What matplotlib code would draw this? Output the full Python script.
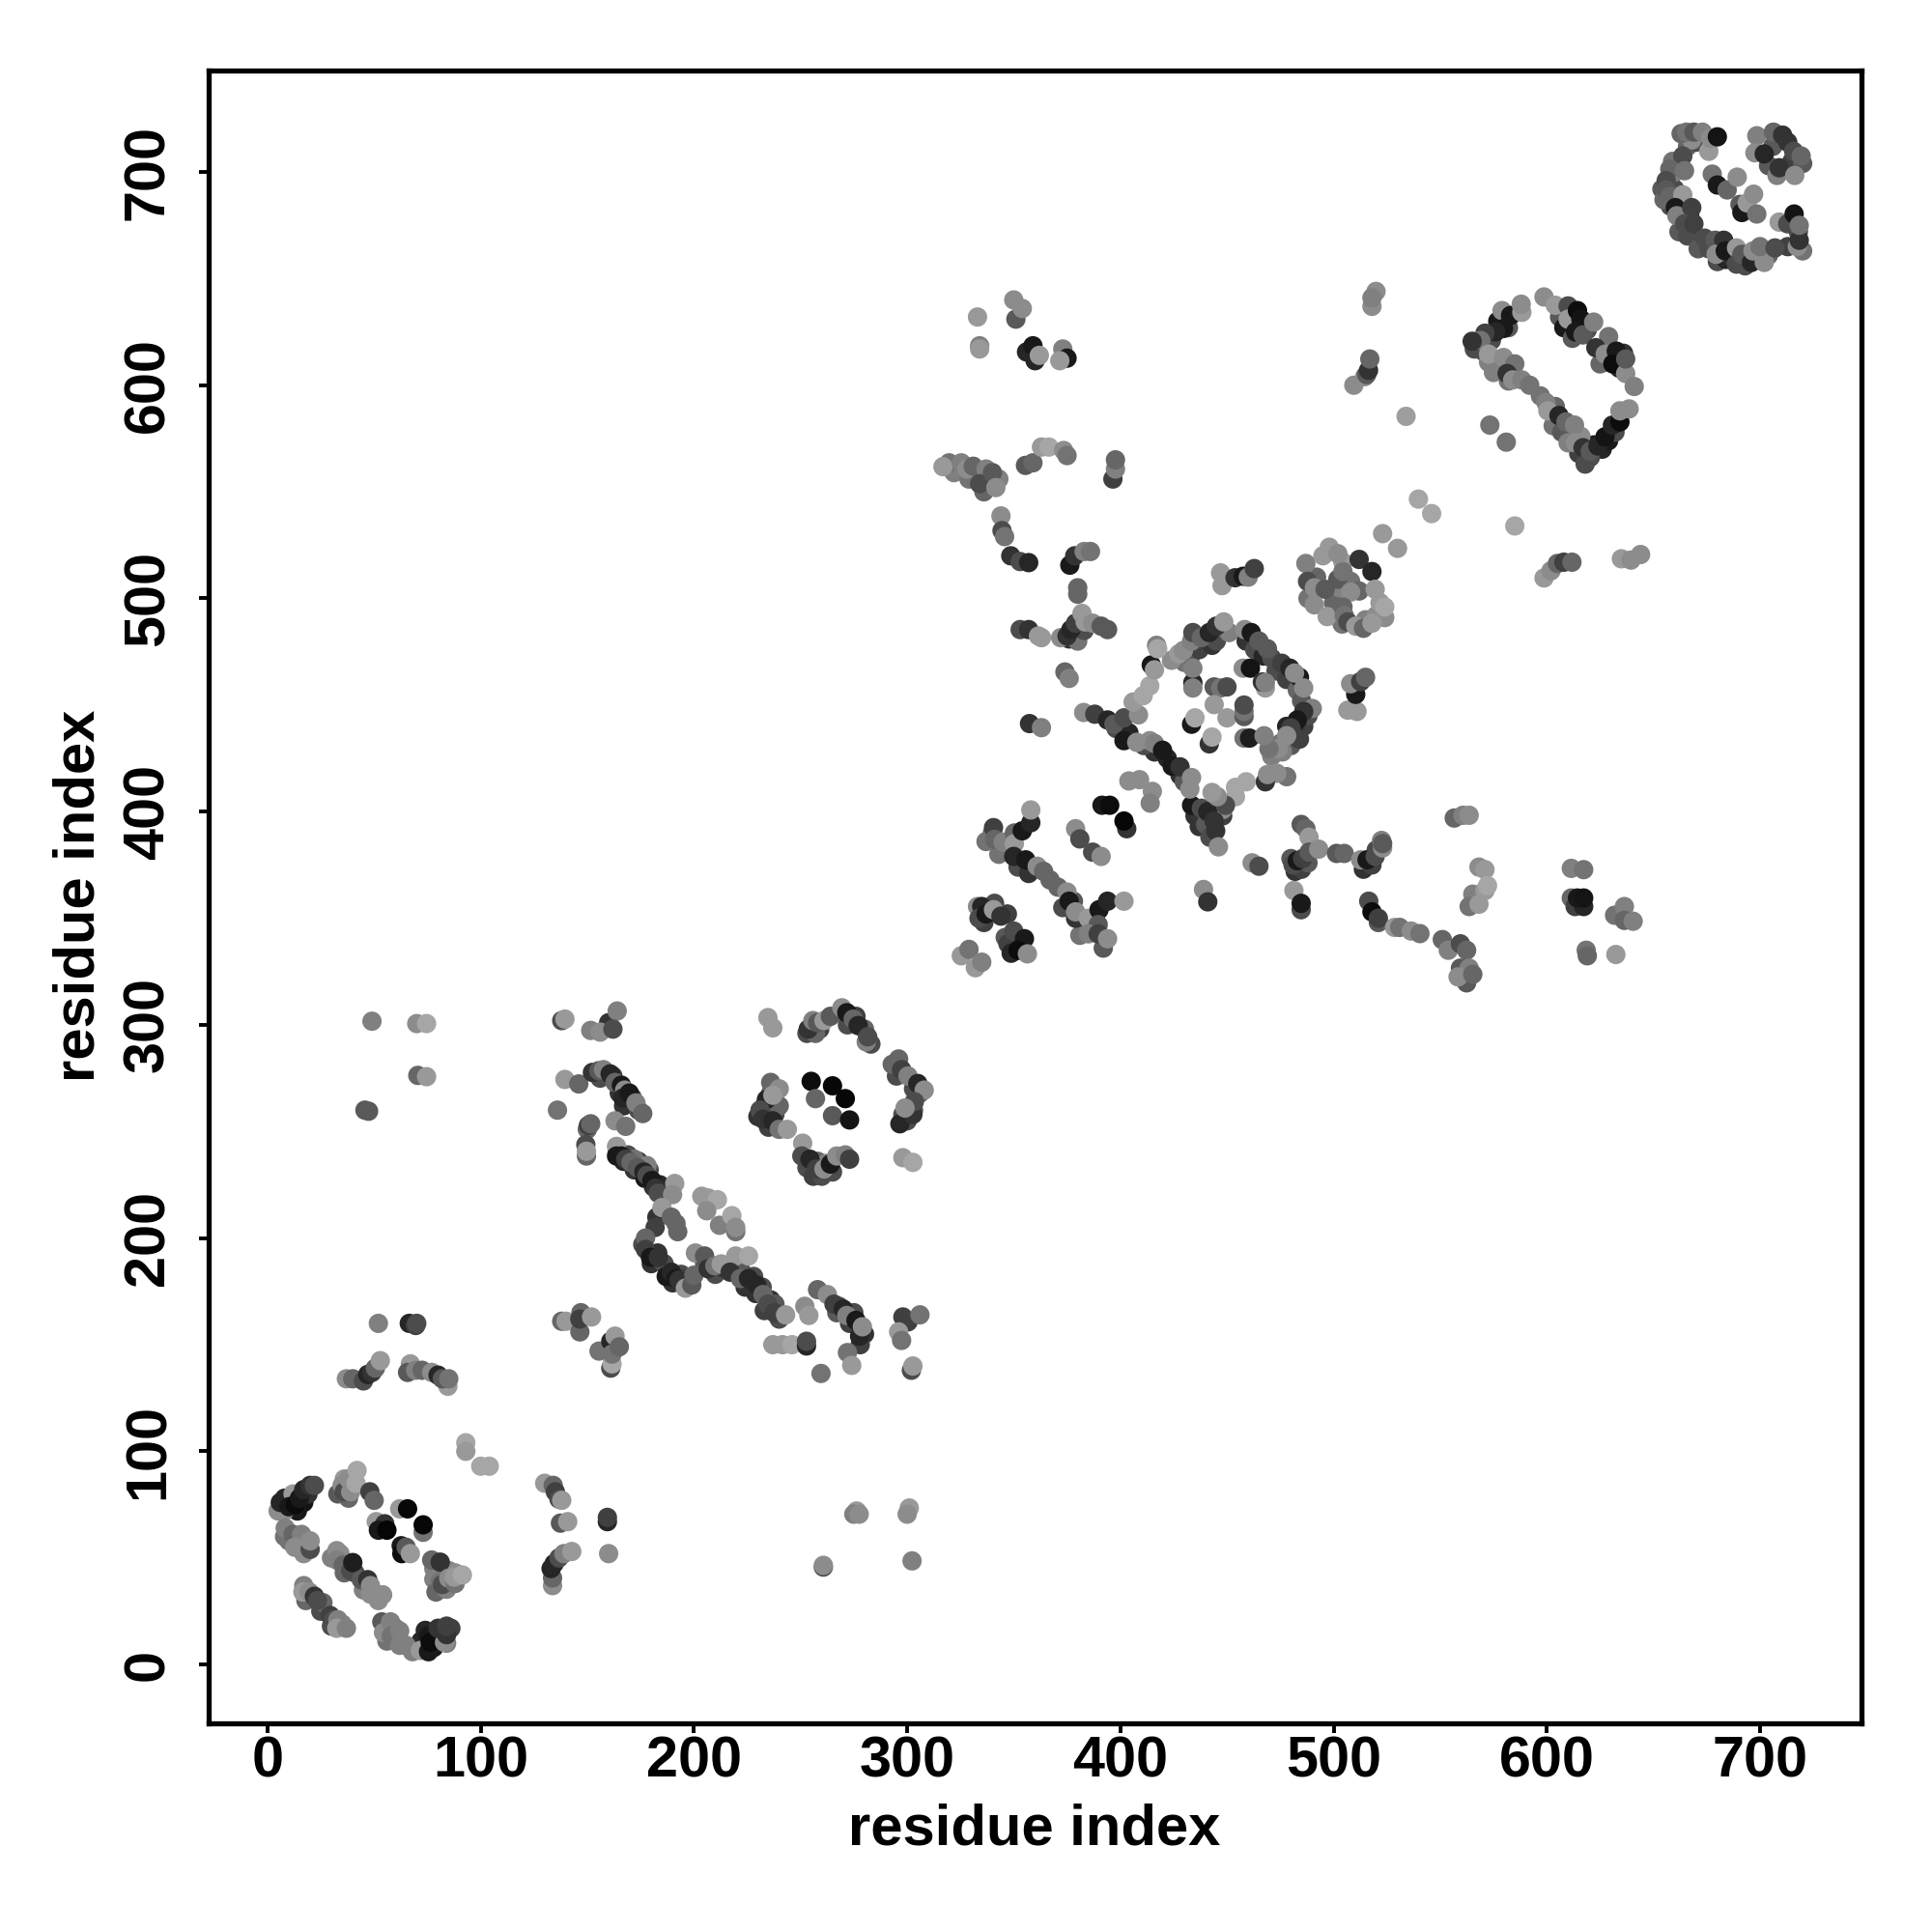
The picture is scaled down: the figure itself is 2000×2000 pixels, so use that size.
import matplotlib
matplotlib.use("Agg")
import matplotlib.pyplot as plt

# (residue x, residue y, grey level), cluster by cluster
under_a = [(5,72,.55),(8,78,.15),(17,76,.08),(14,72,.1),(19,80,.2),(10,58,.45),(15,57,.35),(17,52,.55),(8,60,.45),
    (36,87,.6),(33,80,.35),(38,78,.4),(30,50,.5),(34,52,.55),(36,43,.4),(41,43,.3),(45,35,.5),(52,30,.55),
    (18,30,.4),(25,25,.3),(26,29,.4),(30,18,.3),(35,19,.5),(56,11,.45),(60,17,.45),(68,6,.5),(72,11,.15),(78,8,.1),(74,16,.15),(80,13,.3),(86,17,.25),(84,10,.5),
    (78,45,.5),(78,40,.5),(85,44,.5),(79,34,.4),(88,43,.55)]

under_b = [(164,240,.2),(167,236,.15),(169,239,.3),(172,232,.2),(174,236,.25),(177,228,.1),(179,232,.3),(181,224,.2),(184,225,.15),(186,219,.35),(172,237,.45),(178,234,.5),
    (183,193,.2),(180,188,.2),(186,188,.3),(176,197,.3),(190,179,.2),(194,183,.3),(187,182,.1),(196,181,.25),
    (210,183,.3),(205,188,.35),(214,186,.2),(219,186,.25),(222,185,.35),(224,177,.2),(228,182,.3),(232,177,.3),(229,174,.2),(236,171,.2),(233,166,.25),(238,169,.35),(240,162,.3),
    (268,168,.3),(273,160,.25),(267,165,.35),(275,165,.3),(280,155,.2),(278,150,.25),
    (156,275,.3),(162,276,.25),(165,268,.2),(171,266,.3),(167,262,.2),(174,260,.3),
    (259,298,.25),(253,296,.3),(257,296,.4),(272,300,.3),(276,304,.25),(280,298,.4),(283,291,.3),(296,284,.4),(295,276,.3),(303,270,.3),(306,268,.3),(300,255,.3),(303,260,.35),(298,258,.3),
    (233,262,.3),(230,257,.2),(235,252,.25),(238,258,.3),(236,268,.4),(240,262,.4),
    (253,233,.3),(256,229,.25),(260,229,.3),(265,231,.3),(258,236,.4),(262,235,.5)]

under_c = [(347,352,.25),(336,348,.25),(341,357,.3),(351,339,.2),(346,341,.35),(340,390,.4),(337,386,.45),(343,380,.45),(352,374,.3),(357,371,.2),(367,368,.4),(373,355,.3),(378,358,.35),(385,346,.3),(392,336,.35),(381,342,.45),
    (376,481,.2),(378,484,.3),(380,480,.45),(383,485,.3),(322,559,.5),(329,556,.45),(336,550,.4),(338,555,.3),(343,556,.5),
    (416,428,.2),(422,425,.15),(428,417,.2),(430,414,.35),(398,439,.3),(404,437,.15),(411,431,.3),(437,393,.2),(435,398,.2),(440,394,.35),(448,398,.25),(442,388,.3),(448,401,.55),
    (430,470,.45),(424,471,.55),(433,473,.35),(437,476,.25),(443,478,.2),(445,480,.3),(451,484,.5),
    (459,480,.2),(463,476,.3),(467,473,.15),(471,472,.3),(473,466,.3),(478,462,.25),(483,457,.4),(486,440,.25),(478,440,.15),(482,437,.2),(485,452,.35),(475,432,.45),(480,431,.35),(476,428,.5),(471,426,.5),(488,445,.3),
    (482,372,.2),(485,373,.25),(488,376,.35),(480,378,.35),(514,373,.2),(518,375,.25),(520,382,.3)]

under_d = [(488,500,.45),(492,510,.4),(508,508,.45),(500,498,.4),(504,488,.45),(515,490,.5),(520,492,.55),(524,491,.55),(503,505,.5),
    (612,628,.2),(606,632,.35),(608,627,.1),(619,626,.3),(612,622,.35),(628,611,.1),(634,608,.15),(636,615,.2),(625,610,.4),
    (570,616,.35),(566,617,.3),(574,621,.3),(577,630,.1),(582,627,.35),(575,606,.5),(582,602,.45),(597,595,.45),(604,590,.4),(603,581,.45),(607,578,.35),(615,568,.25),(618,563,.3),(622,572,.1),(626,570,.15),(629,574,.1),(632,578,.3),(616,576,.55),
    (658,697,.4),(660,692,.3),(654,692,.35),(658,684,.3),(655,687,.4),(662,672,.35),(667,680,.15),(666,670,.3),(671,664,.35),(676,664,.3),(680,658,.3),(684,659,.15),(687,660,.2),(693,656,.3),(699,660,.2),(704,661,.4),(713,665,.25),(718,672,.3),(720,663,.45),(659,705,.45),(660,700,.5),(666,712,.4),(670,714,.3),(668,715,.55),(706,712,.35),(713,714,.2),(715,705,.25),(720,704,.35),(704,703,.35)]

ring_a = [(8,72,.55),(6,76,.15),(12,80,.6),(10,74,.1),(13,75,.05),(15,78,.1),(17,82,.15),(20,84,.2),(22,84,.3),
    (8.3,64,.5),(12,61,.4),(16,61,.5),(12.8,55,.55),(20,54,.3),(20,58,.55),
    (35,84,.55),(36,81,.3),(39,81,.55),(38,87,.55),(41.5,85,.65),(42,91,.65),(48,81,.25),(50,77,.4),
    (62,73,.6),(65.7,73,.03),(73,62,.45),(73,65.5,.03),(51,67,.6),(55,66,.2),(52,63,.1),(56,63,.02),
    (62.7,55.7,.1),(63,52,.05),(65,55,.35),(67,52,.6),
    (77,49,.4),(81,48,.2),(81,39,.45),(84,35.3,.5),(82,37.5,.3),(85,40.5,.55),(88,38,.45),(87.6,41,.6),(91.4,42,.65),
    (32.5,53.4,.55),(32.5,49,.5),(35.5,46.6,.4),(39,44,.3),(40,47.8,.12),(44,39.8,.35),(47,39.8,.2),(48.3,37,.55),(48.3,33,.55),(51.3,32.3,.55),(54,32.7,.55),
    (17,37,.5),(16.6,34,.6),(19.6,34,.55),(22,32,.2),(23.4,30,.3),(29.4,23,.25),(31,21,.3),(33,21,.5),(32.5,17,.6),(37,17,.5),
    (53.6,20,.35),(54.4,15,.55),(57.7,20,.5),(58,13.4,.45),(62,15.7,.5),(62,9,.5),(65,9,.5),(71.7,6.6,.6),(75.5,13.4,.1),(75.5,6,.1),(76.3,10.4,.05),
    (83,10.4,.55),(80,17,.2),(84,14,.2),(84,18,.25)]

arc_a = [(52,160,.5),(66.5,160,.15),(69.5,159,.25),(70,160,.3),
    (37,134,.55),(40,134,.4),(45,133,.3),(47,136,.15),(49,137,.2),(50.6,139,.4),(52.9,142.5,.6),
    (67,141,.6),(65.7,137,.35),(69.5,138,.5),(72.5,138,.4),(77,137,.55),(80,135.7,.15),(84.6,130.5,.6),(82,134,.35),(85,134,.45),
    (93,104,.65),(93,100,.6),(100,93,.65),(104,93,.65)]

side_a = [(130,85,.6),(134,84,.4),(135,81,.25),(136.7,77.6,.3),(138,77,.6),(137.4,66.3,.35),(140.8,67,.6),
    (133.7,37,.55),(133.7,40.6,.4),(133,45,.15),(134.4,47.3,.15),(136.7,50,.3),(139,52,.5),(142.7,53,.6),
    (159.4,67,.15),(159.4,69,.25),(160,52,.55),
    (138,161,.4),(140,161,.6),(146.5,156,.4),(147,165,.4),(146.5,162,.25),(152,163,.6),
    (155.5,147,.45),(161,139,.3),(161.6,141,.65),(161,151.6,.15),(161.6,145.6,.45),(163,154,.6),(165,149,.4)]

corner_a = [(49,301.7,.5),(45.7,260,.35),(47.4,259.5,.35),(70,300.6,.55),(74.6,300.6,.65),(70.5,276.3,.4),(74.6,275.7,.6),
    (260.7,45.7,.3),(260.7,46.5,.55),(276.3,72,.6),(275,70.5,.5),(277.5,70.5,.55),(301,73.4,.6),(300,70.5,.55),(302.3,48.6,.5)]

top_b = [(138,302,.3),(139.5,302.7,.6),(160,301,.2),(164,306.5,.5),(151.6,297.4,.5),(156,296.6,.55),(162,298,.3)]

diag_b = [(139.5,274.4,.6),(146,272.3,.4),(136,260,.45),(150,251,.4),(150.5,252.8,.25),(151.6,253.6,.4),(163,255,.55),(168,252.4,.45),
    (149.3,243.8,.3),(149.6,238.5,.4),(149.6,240.7,.6),
    (152.4,277.7,.2),(155.4,278.5,.35),(157.6,279,.5),(160.7,277,.15),(163,273,.4),(166,271.7,.1),(167.5,269.4,.55),(166.7,265.7,.15),(169.7,268,.1),(172.8,263.4,.5),(176,258.4,.4),
    (163.7,243,.6),(163.7,238.5,.1),(166,238.5,.1),(168,237,.25),(170.5,235.5,.4),(173.5,233,.35),(176.5,231,.15),(178,229.4,.3),(180.3,227,.1),(182,223.4,.2),(183.3,221,.3),
    (191,225.6,.6),(190,220.4,.55),(182.6,209.8,.2),(181.8,205,.25),(185,214.3,.6),(189.4,209.8,.4),(191.6,206.8,.4),(192.4,203,.4),
    (177.3,200,.4),(177.3,194.7,.25),(179.6,191,.1),(183.3,191,.2),(189.4,184,.15),(191.6,181,.1),(193,180.3,.2),(196,176.5,.6),(199,178,.35),(200,182.6,.4),
    (200.7,193,.55),(205,191.6,.35),(206.7,185.6,.2),(209.8,187,.45),(212.8,187.9,.6),(219.6,191.6,.6),(225.6,191.6,.65),
    (217,184,.2),(221.8,181,.4),(225.6,181,.15),(229.4,178,.15),(232.4,173.5,.4),(234.7,169,.3),(237.7,165,.25),(243,164,.6),
    (203.7,219.6,.6),(206.7,218.8,.6),(211,218,.65),(206,212.8,.55),(212,206,.5),(217.8,210.5,.65),(219.6,203,.45),(219.6,205,.55),
    (252,168,.55),(253.9,163.7,.6),(258,175.8,.4),(262.6,173.5,.55),(265.7,169,.25),(270,166.7,.15),(271.7,163.7,.5),(277.7,154,.15),(276,161.4,.1),(279,158.4,.55),
    (237,150,.6),(241.5,150,.6),(246,150,.65),(252.8,149.4,.15),(252.8,151.6,.3),(259.6,136.5,.45),(272,146.3,.45),(274,140.3,.6),
    (298,163,.25),(300.4,160.7,.25),(306,164,.45),(296,156,.6),(297.4,152,.45),(302,138,.3),(302.7,140,.6)]

ring_b = [(234.7,303.4,.6),(237,298.6,.6),(253.6,298,.2),(255.8,302,.5),(258,301,.35),(261,302,.6),(264,304,.35),(269.4,308,.55),(271.7,305.7,.1),(274.7,302.7,.4),(277,299.7,.15),(280.8,292,.5),(281.5,294.4,.3),
    (293,281.5,.4),(297.4,279,.25),(300.4,276,.5),(305,272.5,.15),(308,269.4,.55),(296.6,253.6,.15),(302.7,258,.2),(303.4,264,.3),(299,261,.55),(298,237.7,.6),(302.7,235.5,.65),
    (236,273,.4),(240,270,.55),(234,265,.15),(237,267,.6),(231,260,.3),(232.4,255.8,.2),(237,255,.15),(240,251,.45),(243.8,251,.6),
    (255,273.5,.05),(265,271.4,.03),(271,265.4,.03),(257,265.4,.4),(265,257.4,.35),(273,255.4,.08),
    (251,244.5,.6),(250.6,238.5,.3),(254.4,237,.15),(257.4,232.4,.25),(261,232.4,.55),(264,234.7,.1),(267,238.5,.55),(271,239,.5),(273,237,.25)]

low_c = [(325.4,332.4,.6),(329,335.4,.45),(332,326.8,.6),(335,329.4,.5),
    (333,355.5,.55),(335,355.5,.15),(333.7,350,.3),(337,352,.1),(340.5,354,.6),(344,351,.2),
    (347.3,338,.25),(350,344,.3),(355,340.4,.1),(348.8,333.6,.15),(352,335,.05),(356.4,333.3,.55),
    (340.5,392.5,.25),(341,387,.4),(345,385.7,.5),(350.3,390,.4),(350.3,385,.6),(354,391,.1),(358,394.8,.15),(358,400.8,.6),
    (350,379,.15),(355.6,377.4,.1),(361,374.4,.55),(364,372,.4),(370.7,364.6,.4),(375,362.3,.55),(376,358,.1),(379,350,.2),(379,353,.55),(385,350,.6),
    (390,354,.1),(394,358,.15),(401.7,358,.6),(389.6,347,.35),(385,342.7,.5),(389.6,342.7,.25),(394,340.4,.55),
    (379,392,.55),(381,387.2,.3),(387,381,.3),(391,379,.55),(391.4,403,.1),(395,403,.05),(403,392,.2),(401.7,395.6,.03),
    (404,414.4,.55),(409,415,.55),(415,409.5,.55),(414,404,.5),(357.4,441.3,.2),(363,439.4,.5),(374,465.5,.4),(376,462.5,.5),
    (353,485.4,.3),(357,485.4,.2),(361.6,482.4,.6),(363,481.6,.6),
    (372,481.6,.55),(375,482.4,.2),(376.8,485.4,.15),(379,488.4,.25),(382,493,.6),(383.5,489,.6),(387,488.4,.55),(391,487,.35),(394,485.4,.35),
    (380,505,.4),(380,502,.4)]

diamond_c = [(382.8,446.5,.55),(388,445.7,.25),(394,443,.15),(397,441,.35),(401.7,444,.3),(401.7,433.3,.1),(407.7,432.5,.55),(413.8,433.3,.55),(416,432,.5),(419.8,428.8,.1),
    (424.3,421.3,.1),(428,421,.2),(433.4,403,.1),(438,401.6,.3),(441,400,.15),(444,395.5,.2),(444.7,391,.2),(446,383.5,.55),(432.6,410.6,.55),(433.4,416,.55),
    (408.5,445.4,.55),(406,451.4,.6),(410.7,454.4,.65),(413.8,459,.65),(414.5,468.8,.1),(416,466.5,.6),(417,478,.5),(417.5,476.4,.65),
    (427.4,474,.6),(429.6,475.6,.55),(433.4,480,.5),(434,484,.3),(438,481.6,.4),(441.7,484,.15),(445,487,.2),(448.5,489,.6),
    (458.3,485.4,.55),(461.4,484,.1),(465,480,.35),(469,476.4,.35),(475.7,469.6,.25),(479.5,467.3,.15),(484,463,.1),(481.7,465,.55),(486,458,.55),
    (490,448.4,.5),(486,447,.2),(483,443,.1),(480,439.3,.25),(484,434,.25),(478,435.6,.55),(474,429.5,.55),(469.7,429.5,.45),
    (478,416.4,.45),(473.4,418,.55),(468,414,.2),(469,417.4,.55),(459,414,.65),(454,411.4,.65),(454,407,.65),(449.3,403,.3),(445.5,407,.55),(443,409,.6),
    (434,460.5,.15),(434,458,.5),(434,467.3,.5),(444,458.5,.35),(447,458,.45),(450,458.5,.3),(444,450.2,.6),(450,444,.6),(458,444.6,.35),(458,447,.45),(458,450,.3),
    (457.6,467.3,.55),(461,467.3,.08),(468,458,.6),(466.6,460.8,.2),(468,460.5,.5),(433.4,441,.1),(435,444,.65),(441.7,431.8,.2),(443,435,.65),
    (458,434.5,.45),(460.6,434.5,.12),(467.4,435.6,.5)]

right_c = [(506.7,447.6,.6),(511,447,.6),(510.4,455,.1),(508,460,.55),(512.7,461,.25),(515,463,.4),
    (484.8,394,.35),(487,392,.4),(488.5,388,.6),(481,375,.3),(483,377,.1),(485.5,378,.25),(488.5,381,.35),(493,382.4,.55),(501.4,380.4,.35),(505,380.4,.4),
    (512.7,377.4,.55),(515.7,377.4,.1),(519.5,379,.3),(522.5,386.5,.5),(523,383,.55),(523,385,.35),(461.8,376,.55),(465,374.4,.3),(439,363.5,.55),(441,357.7,.2),
    (481.4,363,.6),(484.8,354,.3),(484.8,357,.1),(516.5,358,.3),(518,353,.05),(521,348,.35),(521,350,.25),
    (528.6,345.7,.6),(531,345.7,.45),(536.4,344,.55),(540.5,342.8,.45),(551,340,.4),(553.8,335,.5),(559.5,338,.3),(562.4,335,.4),(559.5,326.6,.35),(563.6,326.6,.5),(562.4,319.7,.35),(558.4,322.5,.55),(565.3,323.7,.4),
    (556.6,397,.4),(560.7,398.3,.5),(563.6,398.3,.55),(568.2,374,.55),(571,372.8,.6),(565.3,361.3,.5),(563.6,355.5,.45),(568.2,356.6,.6),(571,363,.6),(572.2,365.3,.65),
    (611.5,373.4,.5),(617.3,372.8,.45),(611.5,359.5,.4),(613.3,355.5,.25),(617.3,355.5,.15),(614.4,359.5,.1),(617.3,359.5,.08),
    (631.8,351.4,.45),(636.4,355.5,.5),(636.4,349,.4),(640.5,348.6,.5),(618.5,335,.45),(619,332.4,.4),(632.4,333,.6)]

ring_d = [(447,512,.6),(447.7,506,.6),(453.8,509.7,.2),(457.6,510.4,.1),(460,510,.5),(462.8,514,.25),
    (487,516.4,.5),(487.8,508,.3),(491,505,.55),(496,504.3,.35),(491,497,.55),(497,491.5,.6),(504.4,517,.6),(502,509,.35),(504.4,512.6,.45),(498,524,.6),(495,520,.6),(502,521,.55),
    (512,518.3,.2),(518,512.6,.15),(512,503.5,.4),(508,503,.55),(519.5,504.3,.6),(504.4,496,.4),(505,492,.45),(506.7,489,.3),(510.4,487,.6),(514,486,.4),(518,488.4,.6),(521.8,498,.6),(524,496,.65),
    (523,530.4,.6),(530,523.5,.6),(539.8,546.6,.65),(546,539.8,.65),(585,534,.65),
    (598.7,509.6,.6),(602,513,.55),(605,516.4,.4),(608,517,.25),(611.8,517,.4),(635,518.6,.6),(639.5,518,.55),(644,520.6,.55)]

upper_left = [(333,632,.6),(334,618.5,.5),(334,617,.6),(350,640,.55),(351,631,.35),(354,636,.55),(356,615.6,.15),(359,618.5,.1),(360,611.5,.15),(362,614,.6),(373,617,.5),(375,612.7,.1),(371.6,611.5,.6),
    (319.7,563.6,.45),(316.8,561.8,.6),(325.4,563.6,.5),(328,560.7,.55),(331,562,.4),(337,560.7,.5),(334,553.8,.3),(340,559,.35),(341.6,552,.55),
    (344,538.7,.55),(344.5,531.8,.3),(345.7,529,.45),(348.6,520,.2),(353,517.3,.3),(357,516.8,.15),
    (355.5,562.4,.35),(359,563.6,.4),(363,571,.6),(366.5,571,.65),(373.4,569.4,.55),(375,567,.45),(396.5,556,.25),(397.7,560.7,.5),(397.7,565,.4),
    (376.3,515.6,.1),(378.6,520,.2),(383,522,.5),(386,522,.45)]

rect_e = [(598.7,641.4,.55),(604,637.5,.6),(610,637.2,.3),(610,631,.6),(614.4,635,.05),(616,631,.08),(613.5,625,.1),(617,623.6,.35),(622,629.6,.5),
    (629,622.8,.45),(623,617.6,.2),(627.4,614.6,.55),(632.6,616,.1),(631,610,.05),(637,605.5,.55),(637,612.3,.35),(641,599.4,.5),
    (579,635,.55),(583,632.7,.1),(588.3,634.2,.6),(588,638,.55),(579.7,626.6,.1),(576,625,.15),(571,624.4,.25),(569,621,.45),(565,620.6,.2),
    (572.7,610.8,.5),(572.7,614.6,.6),(579.7,613,.55),(585,610,.45),(581.4,605.5,.2),(584,602.5,.55),(588.3,602.5,.5),(592,600,.45),
    (599.6,591.9,.5),(600.5,588,.6),(605.7,585.8,.15),(609,582.8,.4),(613,581.3,.5),(610,573,.5),(613.5,573,.55),(617,570.7,.2),(620.4,566.2,.3),(620.4,569,.35),
    (624,571.5,.15),(627.3,575.8,.08),(630.8,581.3,.15),(634.3,582.8,.05),(634.3,588,.55),(638.6,588.9,.55),(573.3,581.3,.45),(581,573.3,.45),(534,585.4,.62),
    (519.9,644,.55),(518,637,.55),(518,641,.5),(509.5,600,.55),(514.6,604,.55),(515.5,605,.35),(516.4,607,.2),(517,612.3,.4)]

ring_f = [(663,718,.4),(665.5,718.7,.45),(669,718.7,.35),(673,718.7,.5),(676,709.7,.6),(676.8,715.8,.55),(680,716.5,.08),
    (663.8,707.5,.3),(657.7,701.4,.4),(664.6,700.6,.45),(656,696,.3),(656,691.6,.35),(657.7,688.6,.4),(663.8,689.3,.6),(660.3,683.3,.1),(661,679.5,.5),(668,683.3,.25),(664.6,675.7,.3),(669,675.7,.25),
    (674,669,.3),(679,668,.35),(683,668,.2),(679.4,661.4,.55),(683.7,663,.1),(689,664.4,.6),(689,656.8,.3),(691.5,661.4,.35),(696,657.6,.15),(702,657.6,.55),(696.7,663,.55),(700,665,.45),(707,664.4,.3),
    (717.5,665,.55),(718.4,668,.2),(709,676.5,.6),(713,675.7,.3),(716,680.3,.08),(718.4,675,.45),
    (698.5,717,.5),(706.3,718.7,.4),(710.6,717.3,.2),(697.6,709,.55),(702,708.5,.15),(715.8,709.7,.3),(719.3,707.5,.4),(708,698.4,.5),(709,702,.2),(716.3,698.4,.55),
    (677.6,699,.45),(680,693.9,.1),(684.6,691.6,.4),(689.3,697.6,.55),(690.6,684.8,.35),(691.5,681,.1),(694,685.5,.6),(697,689.6,.55),(698.5,680.3,.45)]

tick_vals = [0, 100, 200, 300, 400, 500, 600, 700]
clusters = [under_a, under_b, under_c, under_d, ring_a, arc_a, side_a, corner_a, top_b, diag_b, ring_b, low_c, diamond_c, right_c, ring_d, upper_left, rect_e, ring_f]

plt.rcParams['font.family'] = ['Liberation Sans', 'DejaVu Sans']
plt.rcParams['font.weight'] = 'bold'

fig = plt.figure(figsize=(10, 10), dpi=200)
ax = fig.add_axes([216/2000, 1 - 1784/2000, 1711/2000, 1711/2000])

for pts in clusters:
    xs = [p[0] for p in pts]
    ys = [p[1] for p in pts]
    gs = [p[2] for p in pts]
    ax.scatter(xs, ys, c=gs, cmap='gray', vmin=0, vmax=1, s=52, linewidths=0)

ax.set_xlim(-27.6, 747.6)
ax.set_ylim(-27.6, 747.6)
ax.set_xticks(tick_vals)
ax.set_yticks(tick_vals)
ax.tick_params(axis='both', length=3.5, width=1.4, labelsize=21.4)
ax.tick_params(axis='x', pad=1)
ax.tick_params(axis='y', pad=9)
for lab in ax.get_yticklabels():
    lab.set_rotation(90)
    lab.set_va('center')
for side in ax.spines.values():
    side.set_linewidth(1.9)

ax.set_xlabel('residue index', fontsize=21.5, fontweight='bold')
ax.set_ylabel('residue index', fontsize=21.5, fontweight='bold')
ax.yaxis.set_label_coords((110 - 216) / 1711, (1784 - 927) / 1711)
ax.xaxis.set_label_coords((1071 - 216) / 1711, (1784 - 1866) / 1711)

fig.savefig('out.png', dpi=200)
